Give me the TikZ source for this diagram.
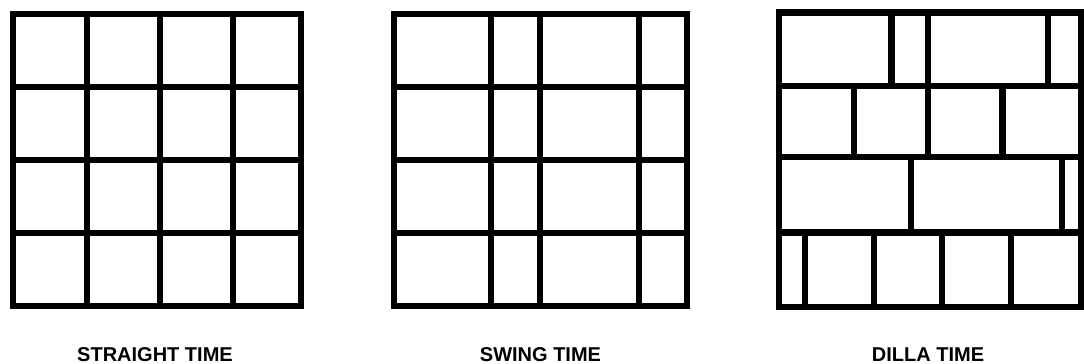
\documentclass[tikz,border=0pt]{standalone}
\usepackage{fontspec}
\setmainfont{Liberation Sans}
\begin{document}
\begin{tikzpicture}[x=1pt,y=-1pt,
  grid/.style={line width=6.3pt, draw=black, line join=miter},
  lbl/.style={font=\fontsize{20}{20}\selectfont\bfseries, anchor=base, inner sep=0pt}]
\useasboundingbox (0,0) rectangle (1084,364);
% STRAIGHT TIME
\draw[grid] (13.3,14) rectangle (300.7,306.3);
\foreach \x in {87.3,160,232.7} \draw[grid] (\x,14) -- (\x,306.3);
\foreach \y in {87.3,160,233} \draw[grid] (13.3,\y) -- (300.7,\y);
% SWING TIME
\draw[grid] (393.7,14) rectangle (687.3,306.3);
\foreach \x in {491.3,540.3,639} \draw[grid] (\x,14) -- (\x,306.3);
\foreach \y in {87.3,160,233} \draw[grid] (393.7,\y) -- (687.3,\y);
% DILLA TIME
\draw[grid] (778.8,12.5) rectangle (1081.2,306.7);
\foreach \y in {86,156.8,232.5} \draw[grid] (778.8,\y) -- (1081.2,\y);
\foreach \x in {891.5,928,1047.8} \draw[grid] (\x,12.5) -- (\x,86);
\foreach \x in {854.2,928,1002.5} \draw[grid] (\x,86) -- (\x,156.8);
\foreach \x in {910.7,1062} \draw[grid] (\x,156.8) -- (\x,232.5);
\foreach \x in {805,873.8,942.3,1010.7} \draw[grid] (\x,232.5) -- (\x,306.7);
% labels
\node[lbl] (l1) at (155,361) {STRAIGHT TIME};
\node[lbl] (l2) at (540.5,361) {SWING TIME};
\node[lbl] (l3) at (928,361) {DILLA TIME};
\end{tikzpicture}
\end{document}
